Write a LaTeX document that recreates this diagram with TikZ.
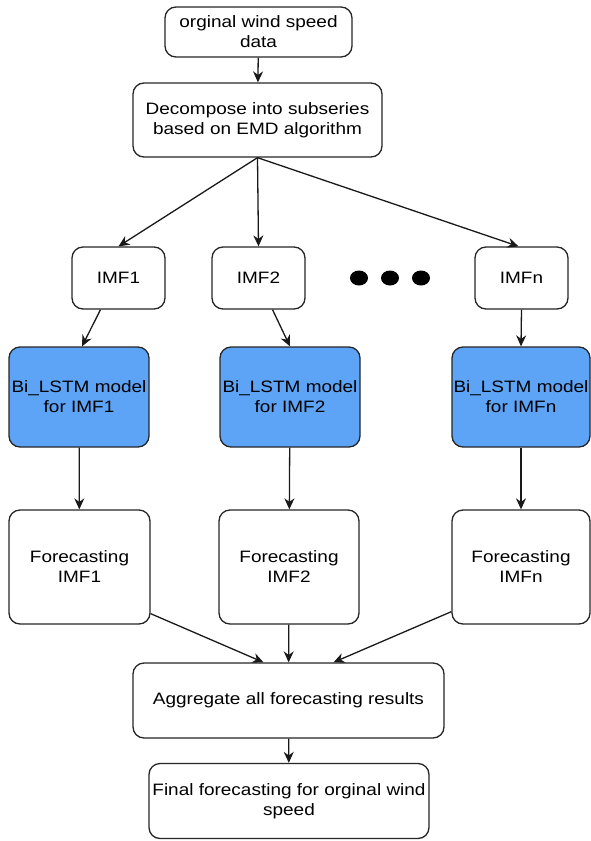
\documentclass[tikz,border=0pt]{standalone}
\usepackage{fontspec}
\setmainfont{Liberation Sans}[FakeStretch=1.15]
\usetikzlibrary{arrows.meta,calc}
\definecolor{lstmblue}{RGB}{94,164,246}
\begin{document}
\begin{tikzpicture}[x=1pt,y=-1pt,
  box/.style={draw=black!85,line width=1.3pt,rounded corners=11pt,fill=white,
    align=center,inner sep=0pt,font=\fontsize{16.5}{20}\selectfont},
  bluebox/.style={box,fill=lstmblue},
  arr/.style={draw=black!90,line width=1.3pt,-{Stealth[length=11pt,width=10pt]}}
]
\useasboundingbox (0,0) rectangle (591,841);
\node[box,minimum width=187pt,minimum height=50pt] (orig) at (258.5,32) {orginal wind speed\\data};
\node[box,minimum width=249pt,minimum height=74pt] (dec) at (257.5,120) {Decompose into subseries\\based on EMD algorithm};
\node[box,minimum width=93pt,minimum height=62pt] (imf1) at (118.5,278) {IMF1};
\node[box,minimum width=93pt,minimum height=62pt] (imf2) at (258.5,278) {IMF2};
\node[box,minimum width=93pt,minimum height=62pt] (imfn) at (521.5,278) {IMFn};
\fill (359,278) ellipse [x radius=9, y radius=7.5];
\fill (390,278) ellipse [x radius=9, y radius=7.5];
\fill (421,278) ellipse [x radius=9, y radius=7.5];
\node[bluebox,minimum width=140pt,minimum height=100pt] (bi1) at (79,397) {Bi\_LSTM model\\for IMF1};
\node[bluebox,minimum width=140pt,minimum height=100pt] (bi2) at (290,397) {Bi\_LSTM model\\for IMF2};
\node[bluebox,minimum width=138pt,minimum height=100pt] (bin) at (521,397) {Bi\_LSTM model\\for IMFn};
\node[box,minimum width=141pt,minimum height=114pt] (fc1) at (79.5,567) {Forecasting\\IMF1};
\node[box,minimum width=140pt,minimum height=114pt] (fc2) at (289,567) {Forecasting\\IMF2};
\node[box,minimum width=138pt,minimum height=114pt] (fcn) at (521,567) {Forecasting\\IMFn};
\node[box,minimum width=311pt,minimum height=75pt] (agg) at (288.5,700.5) {Aggregate all forecasting results};
\node[box,minimum width=280pt,minimum height=75pt] (fin) at (289,801) {Final forecasting for orginal wind\\speed};
\draw[arr] (orig) -- (dec);
\draw[arr] (dec.south) -- (imf1.north);
\draw[arr] (dec.south) -- (imf2.north);
\draw[arr] (dec.south) -- ([xshift=-3pt]imfn.north);
\draw[arr] ([xshift=-18pt]imf1.south) -- ([xshift=3pt]bi1.north);
\draw[arr] ([xshift=14pt]imf2.south) -- (bi2.north);
\draw[arr] (imfn.south) -- (bin.north);
\draw[arr] (bi1) -- (fc1);
\draw[arr] (bi2) -- (fc2);
\draw[arr] (bin) -- (fcn);
\draw[arr] ([yshift=11pt]fc1.south east) -- ([xshift=-25pt]agg.north);
\draw[arr] (fc2) -- (agg);
\draw[arr] ([yshift=13pt]fcn.south west) -- ([xshift=45pt]agg.north);
\draw[arr] (agg) -- (fin);
\end{tikzpicture}
\end{document}
